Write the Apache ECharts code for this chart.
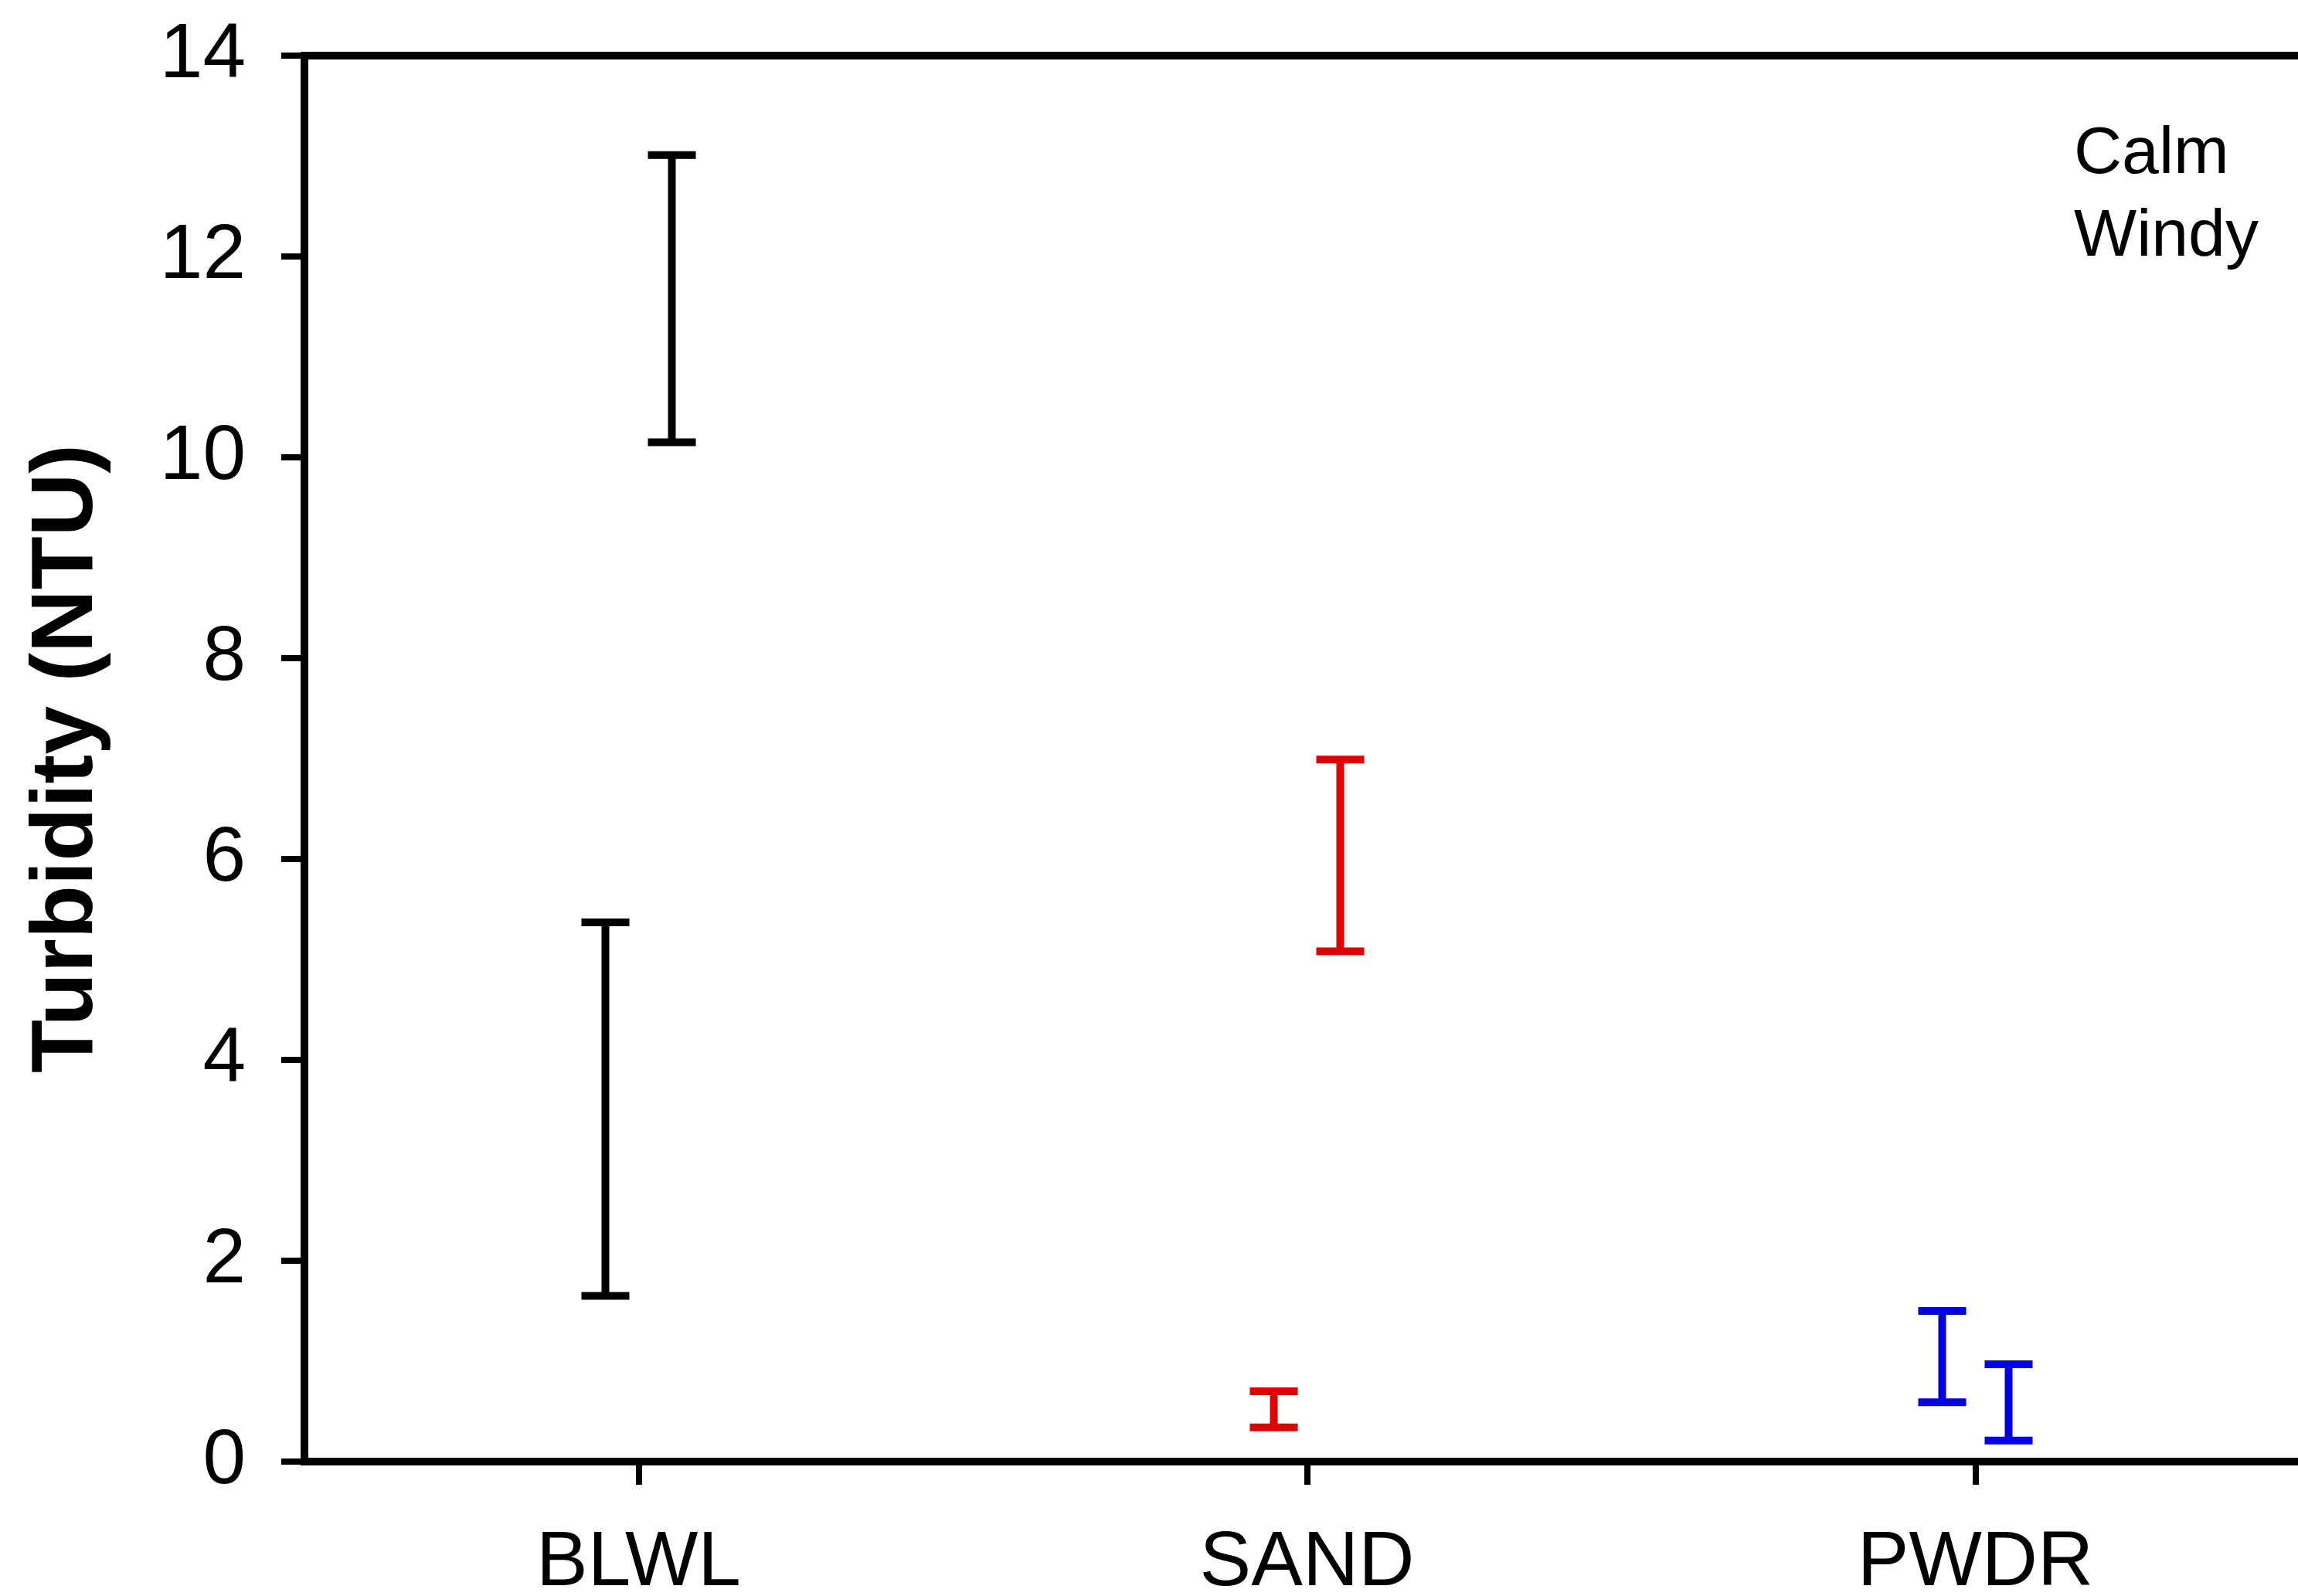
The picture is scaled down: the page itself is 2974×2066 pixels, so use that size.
<!DOCTYPE html>
<html>
<head>
<meta charset="utf-8">
<script src="https://cdn.jsdelivr.net/npm/echarts@6/dist/echarts.min.js"></script>
<style>
html,body{margin:0;padding:0;background:#fff;}
#chart{width:2974px;height:2066px;}
</style>
</head>
<body>
<div id="chart"></div>
<script>
// ---- data ----
const categories = ['BLWL', 'SAND', 'PWDR'];
const categoryColors = ['#000000', '#e00000', '#0000e0'];
const calmLow   = [1.65, 0.34, 0.59];
const calmHigh  = [5.37, 0.70, 1.50];
const windyLow  = [10.15, 5.08, 0.21];
const windyHigh = [13.01, 6.99, 0.97];
const yTicks = [0, 2, 4, 6, 8, 10, 12, 14];
const seriesNames = ['Calm', 'Windy'];

const FONT = "'Liberation Sans', Arial, sans-serif";

function buildData(lows, highs) {
  return categories.map((c, i) => [i, lows[i], highs[i]]);
}

function makeRenderer(offset) {
  return function (params, api) {
    const ci = api.value(0);
    const lo = api.coord([ci, api.value(1)]);
    const hi = api.coord([ci, api.value(2)]);
    const x = lo[0] + offset;
    const cap = 31;
    const color = categoryColors[ci];
    const style = { stroke: color, lineWidth: 10, lineCap: 'butt' };
    return {
      type: 'group',
      children: [
        { type: 'line', shape: { x1: x, y1: lo[1], x2: x, y2: hi[1] }, style: style },
        { type: 'line', shape: { x1: x - cap, y1: lo[1], x2: x + cap, y2: lo[1] }, style: style },
        { type: 'line', shape: { x1: x - cap, y1: hi[1], x2: x + cap, y2: hi[1] }, style: style }
      ]
    };
  };
}

const chart = echarts.init(document.getElementById('chart'), null, { renderer: 'canvas' });
chart.setOption({
  animation: false,
  backgroundColor: '#ffffff',
  grid: {
    left: 394, top: 72, right: -15, bottom: 174,
    outerBoundsMode: 'none',
    containLabel: false,
    show: true, borderColor: '#000', borderWidth: 10, backgroundColor: 'transparent'
  },
  legend: {
    orient: 'vertical',
    left: 2674,
    top: 152,
    icon: 'none',
    itemWidth: 0,
    itemHeight: 0,
    itemGap: 21,
    data: seriesNames,
    selectedMode: false,
    textStyle: { fontFamily: FONT, fontSize: 86, color: '#000' }
  },
  xAxis: {
    type: 'category',
    data: categories,
    boundaryGap: true,
    axisLine: { show: true, lineStyle: { color: '#000', width: 10 } },
    axisTick: { show: true, alignWithLabel: true, inside: false, length: 30, lineStyle: { color: '#000', width: 8 } },
    axisLabel: { fontFamily: FONT, fontSize: 100, color: '#000', margin: 82 },
    splitLine: { show: false }
  },
  yAxis: {
    type: 'value',
    min: 0, max: 14, interval: 2,
    name: 'Turbidity (NTU)',
    nameLocation: 'middle',
    nameGap: 250,
    nameMoveOverlap: false,
    nameRotate: 90,
    nameTextStyle: { fontFamily: FONT, fontSize: 113, fontWeight: 'bold', color: '#000' },
    axisLine: { show: true, lineStyle: { color: '#000', width: 10 } },
    axisTick: { show: true, inside: false, length: 30, lineStyle: { color: '#000', width: 8 } },
    axisLabel: {
      fontFamily: FONT, fontSize: 100, color: '#000', margin: 76,
      formatter: function (v) { return yTicks.indexOf(v) >= 0 ? String(v) : ''; }
    },
    splitLine: { show: false }
  },
  series: [
    {
      name: seriesNames[0],
      type: 'custom',
      renderItem: makeRenderer(-43),
      encode: { x: 0, y: [1, 2] },
      data: buildData(calmLow, calmHigh),
      itemStyle: { color: '#000' }
    },
    {
      name: seriesNames[1],
      type: 'custom',
      renderItem: makeRenderer(43),
      encode: { x: 0, y: [1, 2] },
      data: buildData(windyLow, windyHigh),
      itemStyle: { color: '#000' }
    }
  ]
});
</script>
</body>
</html>
